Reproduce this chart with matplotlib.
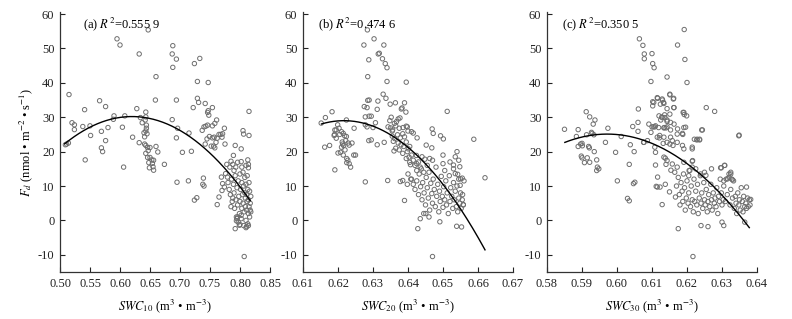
import numpy as np
import matplotlib
matplotlib.use("Agg")
import matplotlib.pyplot as plt

plt.rcParams['font.family'] = ['Liberation Serif', 'DejaVu Serif']
plt.rcParams['mathtext.fontset'] = 'stix'
plt.rcParams['axes.unicode_minus'] = False

# ---------------- data ----------------
# Panel (a): SWC10
swc10 = [0.515, 0.509, 0.511, 0.514, 0.520, 0.524, 0.524, 0.538, 0.541, 0.542, 0.550, 0.551, 0.566, 0.569,
         0.569, 0.571, 0.576, 0.576, 0.580, 0.589, 0.590, 0.595, 0.600, 0.604, 0.606, 0.608,
         0.621, 0.628, 0.632, 0.632, 0.634, 0.637, 0.640, 0.641, 0.643, 0.643, 0.642, 0.644, 0.644, 0.643,
         0.645, 0.641, 0.647, 0.643, 0.646, 0.650, 0.647, 0.643, 0.646, 0.650, 0.653, 0.656, 0.648, 0.654,
         0.655, 0.656, 0.649, 0.660, 0.659, 0.660, 0.663, 0.674,
         0.688, 0.687, 0.688, 0.694, 0.694, 0.687, 0.694, 0.696, 0.695, 0.704, 0.714, 0.715, 0.719, 0.724,
         0.728, 0.724, 0.733, 0.729, 0.722, 0.729, 0.731, 0.737, 0.739, 0.738, 0.740, 0.742, 0.747, 0.746,
         0.748, 0.740, 0.743, 0.746, 0.754, 0.758, 0.761, 0.745, 0.749, 0.742, 0.752, 0.756, 0.758, 0.760,
         0.754, 0.757, 0.762, 0.765, 0.768, 0.771, 0.770, 0.774, 0.775, 0.754, 0.747,
         0.792, 0.802, 0.805, 0.806, 0.815, 0.815, 0.789, 0.785, 0.778, 0.783, 0.788, 0.793, 0.790, 0.796,
         0.802, 0.803, 0.810, 0.813, 0.814, 0.814, 0.769, 0.771, 0.774, 0.770, 0.765, 0.762, 0.776, 0.779,
         0.780, 0.782, 0.784, 0.786, 0.787, 0.789, 0.790, 0.791, 0.792, 0.793, 0.794, 0.795, 0.796, 0.797,
         0.798, 0.799, 0.800, 0.800, 0.801, 0.802, 0.803, 0.803, 0.804, 0.805, 0.805, 0.806, 0.806, 0.807,
         0.808, 0.808, 0.809, 0.809, 0.810, 0.810, 0.811, 0.811, 0.812, 0.812, 0.813, 0.813, 0.814, 0.814,
         0.815, 0.815, 0.816, 0.816, 0.817, 0.817, 0.818, 0.818, 0.792, 0.800, 0.811, 0.814, 0.807, 0.795,
         0.797, 0.802, 0.788, 0.785, 0.799, 0.810, 0.794, 0.796]
fd10 = [36.6, 22.0, 22.2, 22.5, 28.4, 27.8, 26.4, 27.3, 32.2, 17.6, 27.5, 24.7, 34.8, 25.9,
        21.1, 20.0, 33.1, 23.2, 27.0, 29.4, 30.4, 52.8, 51.0, 27.1, 15.5, 30.4,
        24.2, 32.5, 48.4, 22.6, 29.9, 28.4, 25.5, 22.2, 31.5, 30.1, 29.2, 27.7, 26.8, 26.0,
        25.2, 24.3, 55.4, 21.8, 21.2, 21.2, 20.3, 19.5, 18.3, 18.3, 17.6, 17.5, 16.8, 16.6,
        15.6, 14.6, 15.3, 41.8, 35.0, 21.5, 19.9, 16.3,
        50.8, 48.4, 44.5, 46.9, 35.0, 29.3, 24.0, 26.8, 11.1, 19.8, 11.5, 25.4, 20.1, 5.9,
        6.6, 45.6, 47.1, 40.4, 32.8, 35.5, 34.3, 26.2, 12.3, 10.5, 10.0, 34.0, 40.1, 31.4,
        30.6, 27.2, 27.4, 27.7, 27.5, 28.2, 29.2, 23.7, 24.4, 22.2, 21.6, 21.6, 21.1, 22.7,
        24.0, 24.2, 23.9, 25.0, 25.0, 25.2, 24.2, 26.8, 22.2, 32.8, 31.9,
        21.8, 20.8, 26.1, 25.1, 31.7, 24.7, 18.9, 17.2, 16.3, 15.5, 16.3, 15.5, 14.5, 16.9,
        17.1, 15.5, 16.0, 17.6, 15.3, 16.3, 12.6, 10.7, 9.7, 8.7, 6.8, 4.6, 13.6, 12.6,
        11.0, 9.0, 7.5, 12.0, 5.5, 10.5, 8.0, 3.5, 13.0, 6.0, 1.0, 9.5, 4.5, 11.5,
        7.0, 2.0, 13.5, 5.5, 9.0, 0.5, 11.0, 3.5, 7.5, 14.0, 5.0, -1.5, 10.0, 2.5,
        8.0, 12.5, 4.0, 6.5, 0.0, 10.5, 3.0, 7.5, 13.0, 5.5, -1.0, 9.0, 2.0, 6.0,
        11.0, 4.0, 8.5, 1.0, 5.0, 3.0, 7.0, 2.5, -2.4, -1.2, -1.8, -1.5, -10.5, 0.5,
        -0.5, 1.5, 6.5, 4.0, -1.4, -2.1, -0.1, 1.0]

# Panel (b): SWC20
swc20 = [0.6152, 0.6164, 0.6183, 0.6199, 0.6162, 0.6176, 0.6191, 0.6195, 0.6189, 0.6195, 0.6191, 0.6224,
         0.6215, 0.6219, 0.6224, 0.6213, 0.6216, 0.6210, 0.6229, 0.6232, 0.6207, 0.6246, 0.6278,
         0.6200, 0.6215, 0.6225, 0.6228, 0.6232, 0.6236, 0.6245, 0.6250, 0.6212, 0.6222, 0.6240, 0.6205,
         0.6210, 0.6190, 0.6203, 0.6220, 0.6225,
         0.6284, 0.6303, 0.6274, 0.6331, 0.6318, 0.6315, 0.6288, 0.6327, 0.6335, 0.6340, 0.6285, 0.6340,
         0.6395, 0.6329, 0.6337, 0.6314, 0.6289, 0.6285, 0.6275, 0.6283, 0.6349, 0.6312, 0.6289, 0.6295,
         0.6278, 0.6307, 0.6278, 0.6283, 0.6300, 0.6288, 0.6295, 0.6312, 0.6332, 0.6342, 0.6378, 0.6385,
         0.6390, 0.6364, 0.6390, 0.6383, 0.6381, 0.6394, 0.6372, 0.6377, 0.6367, 0.6361, 0.6343, 0.6350,
         0.6356, 0.6386, 0.6395, 0.6398, 0.6410, 0.6415, 0.6426, 0.6452, 0.6469, 0.6472, 0.6468, 0.6493,
         0.6501, 0.6512, 0.6588, 0.6620, 0.6424, 0.6401, 0.6403, 0.6405, 0.6407,
         0.6355, 0.6362, 0.6370, 0.6378, 0.6385, 0.6390, 0.6372, 0.6380, 0.6388, 0.6395, 0.6365, 0.6360,
         0.6375, 0.6385, 0.6398, 0.6405, 0.6410, 0.6395, 0.6415, 0.6420, 0.6430, 0.6440, 0.6448, 0.6435,
         0.6425, 0.6445, 0.6400, 0.6408, 0.6398, 0.6355, 0.6365, 0.6375, 0.6400, 0.6348, 0.6352, 0.6358,
         0.6410, 0.6415, 0.6420, 0.6425, 0.6430, 0.6432, 0.6436, 0.6440, 0.6442, 0.6446, 0.6450, 0.6452,
         0.6455, 0.6458, 0.6460, 0.6462, 0.6465, 0.6468, 0.6470, 0.6472, 0.6475, 0.6478, 0.6480, 0.6482,
         0.6485, 0.6488, 0.6490, 0.6492, 0.6495, 0.6498, 0.6500, 0.6502, 0.6505, 0.6508, 0.6510, 0.6512,
         0.6515, 0.6518, 0.6520, 0.6522, 0.6525, 0.6528, 0.6530, 0.6532, 0.6535, 0.6538, 0.6540, 0.6542,
         0.6545, 0.6548, 0.6550, 0.6552, 0.6555, 0.6558, 0.6455, 0.6470, 0.6500, 0.6520, 0.6530, 0.6505,
         0.6438, 0.6425, 0.6545, 0.6555, 0.6548, 0.6560, 0.6460, 0.6445, 0.6435,
         0.6530, 0.6535, 0.6542, 0.6550, 0.6549, 0.6556, 0.6558, 0.6428, 0.6451, 0.6470, 0.6491, 0.6539,
         0.6553, 0.6462, 0.6540, 0.6535, 0.6500, 0.6545]
fd20 = [28.3, 29.9, 31.6, 27.8, 21.3, 21.8, 26.3, 26.3, 24.7, 23.9, 14.7, 29.2,
        25.3, 24.6, 24.4, 22.2, 21.8, 21.3, 22.5, 21.9, 19.8, 26.8, 11.2,
        19.6, 19.0, 18.0, 17.5, 16.5, 15.5, 19.0, 19.0, 22.8, 23.2, 22.5, 25.0,
        25.8, 25.0, 26.8, 20.5, 16.8,
        55.4, 52.8, 51.0, 51.0, 48.6, 48.4, 46.7, 47.0, 45.6, 44.4, 41.8, 40.4,
        40.2, 36.7, 35.5, 34.7, 35.0, 34.9, 33.1, 32.8, 33.8, 32.3, 30.3, 30.3,
        30.1, 28.4, 27.8, 27.2, 27.0, 23.2, 23.4, 22.0, 22.7, 11.6, 11.3, 11.6,
        5.8, 34.2, 34.2, 32.7, 32.4, 31.5, 29.5, 29.8, 28.7, 28.2, 27.2, 26.9,
        26.3, 27.0, 27.4, 27.2, 25.8, 25.4, 24.0, 21.9, 26.6, 25.3, 21.1, 24.6,
        23.7, 31.7, 23.6, 12.4, 18.9, 20.8, 18.4, 16.9, 16.2,
        24.5, 23.8, 24.9, 24.0, 25.2, 24.3, 22.5, 22.0, 21.5, 22.8, 21.0, 20.2,
        20.5, 19.5, 20.0, 21.5, 19.0, 18.0, 17.5, 16.0, 17.0, 18.5, 17.8, 15.5,
        14.5, 14.0, 13.5, 12.0, 10.5, 26.0, 27.5, 26.8, 26.0, 29.0, 30.0, 23.0,
        12.0, 10.5, 9.0, 11.5, 7.5, 13.5, 9.8, 6.0, 11.0, 8.0, 4.5, 12.5,
        9.5, 6.5, 14.0, 3.0, 10.8, 7.8, 5.0, 12.0, 9.0, 4.0, 15.5, 7.0,
        10.5, 2.5, 8.5, 5.5, 12.8, 7.0, 3.8, 9.8, 6.0, 11.5, 4.5, 8.0,
        2.0, 13.0, 5.5, 9.5, 7.0, 3.5, 11.0, 6.0, 8.5, 4.0, 10.0, 2.5,
        6.5, 5.0, 8.0, 3.5, 6.0, 4.5, 16.0, 17.5, 16.5, 17.0, 15.0, 14.5,
        15.0, 16.5, 12.0, 12.3, 15.6, 11.5, 1.0, 2.0, 0.5,
        16.1, 13.6, 13.4, 12.1, 10.2, 7.5, 4.6, -2.4, 2.0, -10.5, -0.4, -1.7,
        -1.9, 18.0, 20.0, 18.5, 19.0, 17.5]

# Panel (c): SWC30
swc30 = [0.5850, 0.5884, 0.5889, 0.5912, 0.5922, 0.5937, 0.5932, 0.5927, 0.5929, 0.5934, 0.5913, 0.5896,
         0.5900, 0.5901, 0.5889, 0.5919, 0.5921, 0.5898, 0.5900, 0.5907, 0.5922, 0.5915, 0.5944, 0.5948,
         0.5942, 0.5935, 0.5942, 0.5974, 0.5967, 0.5996, 0.6001, 0.6012, 0.6030, 0.6035, 0.6035, 0.6038,
         0.6045, 0.6049, 0.6047, 0.6051, 0.6060, 0.6060, 0.6061, 0.6064, 0.6074, 0.6078, 0.6078, 0.6076,
         0.6087, 0.6097, 0.6100, 0.6102, 0.6106, 0.6102, 0.6102, 0.6104, 0.6108, 0.6097, 0.6108, 0.6110,
         0.6112, 0.6123, 0.6116, 0.6116, 0.6129, 0.6121, 0.6125, 0.6128, 0.6130, 0.6133, 0.6135, 0.6140,
         0.6143, 0.6143, 0.6137, 0.6143, 0.6132, 0.6138, 0.6140, 0.6138, 0.6151, 0.6151, 0.6162, 0.6162,
         0.6150, 0.6154, 0.6173, 0.6173, 0.6167, 0.6175, 0.6188, 0.6189, 0.6192, 0.6194, 0.6192, 0.6196,
         0.6200, 0.6215, 0.6216, 0.6217, 0.6221, 0.6229, 0.6236, 0.6242, 0.6255, 0.6279, 0.6298, 0.6307,
         0.6348, 0.6370, 0.6382,
         0.6115, 0.6129, 0.6151, 0.6161, 0.6105, 0.6124, 0.6134, 0.6163, 0.6191, 0.6199, 0.6120, 0.6129,
         0.6136, 0.6143, 0.6153, 0.6163, 0.6091, 0.6100, 0.6110, 0.6119, 0.6134, 0.6143, 0.6153, 0.6191,
         0.6244, 0.6349, 0.6115, 0.6122, 0.6134, 0.6153, 0.6158, 0.6143, 0.6151, 0.6160, 0.6172, 0.6187,
         0.6191, 0.6215, 0.6228, 0.6236, 0.6077, 0.6110, 0.6172, 0.6187,
         0.6134, 0.6143, 0.6158, 0.6172, 0.6191, 0.6215, 0.6206, 0.6225, 0.6239, 0.6254, 0.6296, 0.6308,
         0.6325, 0.6316, 0.6330, 0.6115,
         0.6165, 0.6170, 0.6175, 0.6178, 0.6180, 0.6183, 0.6186, 0.6188, 0.6190, 0.6193, 0.6195, 0.6198,
         0.6200, 0.6203, 0.6205, 0.6208, 0.6210, 0.6212, 0.6215, 0.6218, 0.6220, 0.6222, 0.6225, 0.6228,
         0.6230, 0.6232, 0.6235, 0.6238, 0.6240, 0.6242, 0.6245, 0.6248, 0.6250, 0.6252, 0.6255, 0.6258,
         0.6260, 0.6262, 0.6265, 0.6268, 0.6270, 0.6272, 0.6275, 0.6278, 0.6280, 0.6283, 0.6285, 0.6288,
         0.6290, 0.6293, 0.6295, 0.6298, 0.6300, 0.6303, 0.6305, 0.6310, 0.6315, 0.6320, 0.6323, 0.6325,
         0.6330, 0.6333, 0.6335, 0.6338, 0.6340, 0.6342, 0.6345, 0.6348, 0.6350, 0.6352, 0.6355, 0.6358,
         0.6360, 0.6362, 0.6365, 0.6368, 0.6370, 0.6373, 0.6375, 0.6378, 0.6380, 0.6365, 0.6300, 0.6305,
         0.6240, 0.6260, 0.6205, 0.6215, 0.6250, 0.6270, 0.6320, 0.6325, 0.6328, 0.6312, 0.6305]
fd30 = [26.5, 24.4, 26.4, 31.6, 30.1, 29.2, 28.0, 25.6, 25.3, 24.9, 24.9, 22.2,
        22.4, 21.7, 21.5, 21.5, 21.1, 18.7, 18.2, 16.8, 16.9, 18.2, 15.5, 15.0,
        14.5, 20.0, 17.6, 26.8, 22.7, 19.8, 11.5, 24.4, 6.4, 5.7, 16.3, 22.0,
        27.3, 20.0, 10.7, 11.1, 25.9, 28.5, 32.4, 52.8, 50.9, 48.4, 47.0, 22.7,
        23.2, 40.4, 48.5, 45.6, 44.4, 33.3, 34.5, 27.2, 27.2, 25.6, 21.3, 16.1,
        9.9, 9.7, 35.5, 12.6, 4.6, 24.0, 29.2, 30.1, 35.0, 34.3, 27.0, 26.9,
        41.7, 32.5, 29.9, 28.8, 22.4, 18.1, 16.3, 10.5, 36.7, 30.9, 32.8, 35.5,
        8.3, 14.6, 51.0, 26.6, 6.8, -2.4, 25.0, 31.4, 55.5, 46.8, 30.8, 27.1,
        40.1, 21.3, 17.4, -10.5, 23.6, 23.6, 23.6, 26.3, 32.8, 31.7, 15.3, 16.0,
        24.6, 9.7, 6.1,
        35.7, 35.3, 36.5, 35.3, 34.3, 33.8, 34.0, 32.8, 31.4, 30.4, 30.4, 29.9,
        30.7, 29.2, 28.5, 28.0, 28.0, 27.2, 27.5, 27.0, 26.9, 27.2, 26.3, 27.0,
        26.3, 24.8, 24.2, 24.7, 24.2, 24.2, 23.2, 22.7, 22.2, 21.8, 22.7, 21.8,
        20.8, 20.8, 23.4, 23.4, 22.7, 19.8, 25.1, 25.3,
        18.4, 17.4, 16.4, 15.5, 16.9, 17.2, 14.5, 15.0, 13.5, 13.1, 15.3, 16.0,
        13.5, 12.1, 11.8, 9.7,
        14.0, 10.0, 12.5, 7.5, 4.5, 11.0, 8.5, 5.5, 13.5, 9.5, 3.0, 6.5,
        11.5, 5.0, 8.0, 14.5, 4.0, 10.0, 6.0, 2.5, 12.0, 5.5, 8.5, 4.5,
        10.5, 2.0, 6.5, 13.0, 5.0, 8.0, 3.5, 11.0, 6.0, 4.5, 9.0, 2.5,
        5.5, 7.5, 4.0, 10.5, 6.0, 3.0, 8.0, 5.0, 6.5, 4.0, 9.5, 2.0,
        7.0, 5.5, 12.0, 8.0, 4.5, 6.0, 10.0, 5.5, 7.5, 12.5, 4.5, 9.0,
        6.5, 11.5, 3.5, 7.0, 5.0, 2.0, 8.0, 4.5, 6.0, 3.0, 9.5, 5.5,
        2.5, 7.0, 4.0, 5.0, 3.5, 6.5, 4.0, 6.0, 4.5, -0.5, -0.5, -1.5,
        -1.5, -1.8, 13.0, 15.5, 14.0, 15.0, 13.5, 14.0, 12.0, 12.0, 11.5]

# quadratic fits: vertex x, vertex y, curvature, x range
fit_vx = [0.620, 0.6217, 0.5972]
fit_vy = [30.2, 29.0, 25.1]
fit_k = [-630.0, -23126.0, -16500.0]
fit_xmin = [0.508, 0.6153, 0.5851]
fit_xmax = [0.817, 0.662, 0.6378]

panel_labels = ["(a)", "(b)", "(c)"]
r2_text = ["0.555 9", "0.474 6", "0.350 5"]
xlabels = [r"$SWC_{10}$ (m$^3$ • m$^{-3}$)", r"$SWC_{20}$ (m$^3$ • m$^{-3}$)", r"$SWC_{30}$ (m$^3$ • m$^{-3}$)"]
xlims = [(0.50, 0.85), (0.61, 0.67), (0.58, 0.64)]
xticks = [[0.50, 0.55, 0.60, 0.65, 0.70, 0.75, 0.80, 0.85],
          [0.61, 0.62, 0.63, 0.64, 0.65, 0.66, 0.67],
          [0.58, 0.59, 0.60, 0.61, 0.62, 0.63, 0.64]]
yticks = [-10, 0, 10, 20, 30, 40, 50, 60]

xs = [swc10, swc20, swc30]
ys = [fd10, fd20, fd30]

# ---------------- plot ----------------
fig = plt.figure(figsize=(7.92, 3.19), dpi=100)
lefts = [60 / 792, 303 / 792, 547 / 792]
W = 210 / 792
B = 1 - 272 / 319
H = 260 / 319

for i in range(3):
    ax = fig.add_axes([lefts[i], B, W, H])
    ax.scatter(xs[i], ys[i], s=10, facecolors='none', edgecolors='#6e6e6e', linewidths=0.7, zorder=2)
    xf = np.linspace(fit_xmin[i], fit_xmax[i], 200)
    yf = fit_vy[i] + fit_k[i] * (xf - fit_vx[i]) ** 2
    ax.plot(xf, yf, color='black', lw=1.0, zorder=3)
    ax.set_xlim(*xlims[i])
    ax.set_ylim(-15, 60.6)
    ax.set_xticks(xticks[i])
    ax.set_xticklabels([f"{t:.2f}" for t in xticks[i]])
    ax.set_yticks(yticks)
    ax.set_yticklabels([str(t) for t in yticks])
    for s in ['top', 'right']:
        ax.spines[s].set_visible(False)
    for s in ['left', 'bottom']:
        ax.spines[s].set_linewidth(0.9)
        ax.spines[s].set_color('#333333')
    ax.tick_params(direction='in', length=3.5, width=0.8, labelsize=9, pad=4, colors='#222222')
    ax.set_xlabel(xlabels[i], fontsize=9, labelpad=6)
    ax.text(0.11 if i == 0 else 0.07, 0.985, panel_labels[i] + " $R^2$=" + r2_text[i],
            transform=ax.transAxes, fontsize=9, va='top', ha='left')
    if i == 0:
        ax.set_ylabel(r"$F_d$ (nmol • m$^{-2}$ • s$^{-1}$)", fontsize=9, labelpad=2)

fig.savefig("out.png", dpi=100)
